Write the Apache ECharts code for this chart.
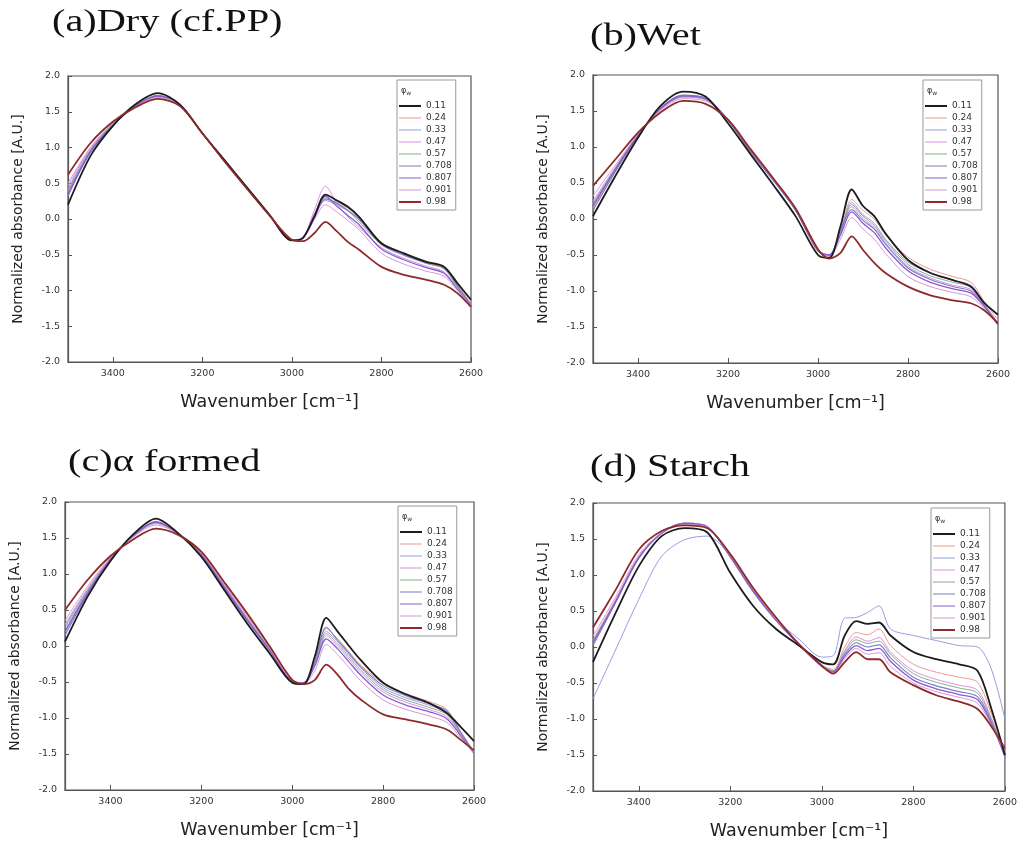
<!DOCTYPE html>
<html>
<head>
<meta charset="utf-8">
<script src="https://cdn.jsdelivr.net/npm/echarts@6/dist/echarts.min.js"></script>
<style>
  html, body { margin: 0; padding: 0; background: #fff; }
  #root { width: 1020px; height: 843px; }
</style>
</head>
<body>
<div id="root"></div>
<script>
// wavenumber grid (cm-1) shared by every curve
const wavenumbers = [3500, 3450, 3400, 3350, 3300, 3250, 3200, 3150, 3100, 3050, 3000, 2975, 2950, 2925, 2900, 2875, 2850, 2800, 2750, 2700, 2660, 2630, 2600];
const awLabels = ['0.11', '0.24', '0.33', '0.47', '0.57', '0.708', '0.807', '0.901', '0.98'];
const panelTitles = ['(a)Dry (cf.PP)', '(b)Wet', '(c)\u03b1 formed', '(d) Starch'];

// one row per water activity, same order as awLabels
const dryAbs = [
  [0.20, 0.88, 1.30, 1.60, 1.76, 1.60, 1.20, 0.82, 0.44, 0.06, -0.30, -0.26, 0.03, 0.34, 0.26, 0.17, 0.03, -0.34, -0.48, -0.60, -0.67, -0.90, -1.13],
  [0.38, 0.95, 1.32, 1.58, 1.72, 1.60, 1.20, 0.82, 0.43, 0.06, -0.30, -0.27, 0.01, 0.28, 0.23, 0.15, 0.02, -0.33, -0.47, -0.59, -0.66, -0.92, -1.18],
  [0.42, 0.97, 1.33, 1.58, 1.72, 1.60, 1.20, 0.81, 0.43, 0.05, -0.30, -0.27, 0.02, 0.26, 0.20, 0.11, -0.01, -0.36, -0.51, -0.62, -0.69, -0.95, -1.20],
  [0.46, 0.99, 1.34, 1.58, 1.71, 1.60, 1.20, 0.81, 0.43, 0.05, -0.30, -0.26, 0.12, 0.46, 0.22, 0.03, -0.12, -0.40, -0.55, -0.66, -0.74, -0.98, -1.20],
  [0.40, 0.96, 1.32, 1.57, 1.71, 1.60, 1.20, 0.81, 0.43, 0.05, -0.30, -0.27, 0.04, 0.30, 0.22, 0.12, -0.04, -0.36, -0.50, -0.62, -0.70, -0.96, -1.20],
  [0.32, 0.93, 1.31, 1.58, 1.73, 1.60, 1.20, 0.81, 0.43, 0.05, -0.30, -0.27, 0.03, 0.28, 0.22, 0.12, 0.00, -0.35, -0.50, -0.61, -0.68, -0.94, -1.20],
  [0.35, 0.94, 1.31, 1.57, 1.72, 1.60, 1.20, 0.81, 0.43, 0.05, -0.30, -0.27, 0.06, 0.32, 0.18, 0.05, -0.08, -0.42, -0.57, -0.68, -0.76, -0.99, -1.22],
  [0.50, 1.00, 1.34, 1.57, 1.70, 1.60, 1.20, 0.80, 0.42, 0.05, -0.30, -0.27, -0.01, 0.20, 0.10, -0.02, -0.15, -0.48, -0.63, -0.73, -0.80, -1.00, -1.22],
  [0.62, 1.06, 1.36, 1.56, 1.68, 1.58, 1.20, 0.80, 0.42, 0.05, -0.29, -0.31, -0.20, -0.04, -0.17, -0.32, -0.43, -0.67, -0.78, -0.85, -0.92, -1.04, -1.23]
];
const wetAbs = [
  [0.04, 0.60, 1.13, 1.57, 1.77, 1.70, 1.33, 0.90, 0.48, 0.04, -0.50, -0.54, -0.10, 0.41, 0.18, 0.04, -0.20, -0.57, -0.75, -0.85, -0.94, -1.17, -1.33],
  [0.15, 0.68, 1.15, 1.53, 1.70, 1.67, 1.38, 0.94, 0.55, 0.12, -0.44, -0.52, -0.17, 0.27, 0.12, 0.00, -0.22, -0.53, -0.70, -0.80, -0.88, -1.15, -1.40],
  [0.20, 0.70, 1.16, 1.53, 1.71, 1.67, 1.38, 0.94, 0.55, 0.13, -0.44, -0.50, -0.18, 0.23, 0.06, -0.06, -0.28, -0.60, -0.75, -0.85, -0.92, -1.18, -1.45],
  [0.25, 0.72, 1.17, 1.52, 1.69, 1.66, 1.38, 0.95, 0.56, 0.13, -0.43, -0.50, -0.20, 0.17, 0.01, -0.12, -0.33, -0.66, -0.82, -0.92, -0.98, -1.20, -1.45],
  [0.22, 0.71, 1.16, 1.53, 1.70, 1.66, 1.38, 0.94, 0.55, 0.13, -0.44, -0.50, -0.19, 0.20, 0.04, -0.09, -0.30, -0.63, -0.79, -0.88, -0.95, -1.19, -1.45],
  [0.12, 0.66, 1.15, 1.54, 1.72, 1.68, 1.37, 0.93, 0.54, 0.12, -0.45, -0.51, -0.16, 0.13, -0.02, -0.14, -0.35, -0.68, -0.84, -0.94, -1.00, -1.21, -1.47],
  [0.18, 0.69, 1.16, 1.53, 1.71, 1.67, 1.38, 0.94, 0.55, 0.13, -0.44, -0.50, -0.22, 0.10, -0.06, -0.19, -0.40, -0.72, -0.88, -0.97, -1.03, -1.22, -1.47],
  [0.32, 0.75, 1.18, 1.51, 1.67, 1.64, 1.38, 0.95, 0.56, 0.14, -0.43, -0.52, -0.28, 0.02, -0.14, -0.28, -0.48, -0.80, -0.94, -1.02, -1.08, -1.25, -1.46],
  [0.46, 0.83, 1.20, 1.48, 1.64, 1.60, 1.38, 0.97, 0.57, 0.15, -0.42, -0.55, -0.47, -0.24, -0.43, -0.61, -0.75, -0.94, -1.06, -1.13, -1.17, -1.27, -1.45]
];
const alphaAbs = [
  [0.06, 0.69, 1.18, 1.55, 1.77, 1.56, 1.24, 0.78, 0.32, -0.10, -0.51, -0.53, -0.14, 0.39, 0.20, 0.00, -0.19, -0.51, -0.67, -0.79, -0.93, -1.12, -1.32],
  [0.20, 0.75, 1.20, 1.53, 1.72, 1.56, 1.27, 0.82, 0.38, -0.05, -0.49, -0.51, -0.22, 0.24, 0.10, -0.08, -0.26, -0.52, -0.66, -0.77, -0.88, -1.18, -1.47],
  [0.25, 0.77, 1.21, 1.53, 1.72, 1.56, 1.27, 0.83, 0.38, -0.05, -0.49, -0.51, -0.23, 0.20, 0.06, -0.12, -0.30, -0.58, -0.72, -0.82, -0.93, -1.20, -1.48],
  [0.30, 0.80, 1.22, 1.52, 1.70, 1.55, 1.28, 0.84, 0.40, -0.04, -0.49, -0.51, -0.26, 0.14, 0.00, -0.18, -0.36, -0.64, -0.78, -0.88, -0.98, -1.22, -1.48],
  [0.28, 0.78, 1.21, 1.52, 1.71, 1.55, 1.28, 0.83, 0.39, -0.04, -0.49, -0.51, -0.25, 0.17, 0.03, -0.15, -0.33, -0.61, -0.75, -0.85, -0.95, -1.21, -1.48],
  [0.15, 0.72, 1.19, 1.54, 1.73, 1.56, 1.26, 0.81, 0.36, -0.06, -0.50, -0.52, -0.20, 0.26, 0.08, -0.10, -0.28, -0.55, -0.69, -0.80, -0.90, -1.19, -1.48],
  [0.20, 0.74, 1.20, 1.53, 1.72, 1.56, 1.27, 0.82, 0.37, -0.05, -0.49, -0.51, -0.27, 0.10, -0.04, -0.22, -0.40, -0.68, -0.82, -0.91, -1.01, -1.24, -1.49],
  [0.35, 0.83, 1.23, 1.51, 1.68, 1.55, 1.29, 0.86, 0.42, -0.03, -0.48, -0.52, -0.34, 0.02, -0.12, -0.30, -0.48, -0.75, -0.88, -0.97, -1.06, -1.27, -1.48],
  [0.50, 0.92, 1.25, 1.48, 1.63, 1.54, 1.31, 0.89, 0.46, 0.00, -0.47, -0.53, -0.47, -0.26, -0.40, -0.60, -0.74, -0.95, -1.02, -1.09, -1.16, -1.30, -1.45]
];
const starchAbs = [
  [-0.21, 0.48, 1.12, 1.54, 1.65, 1.59, 1.03, 0.57, 0.25, 0.02, -0.21, -0.24, 0.16, 0.36, 0.32, 0.34, 0.16, -0.07, -0.17, -0.24, -0.33, -0.85, -1.50],
  [0.10, 0.66, 1.25, 1.58, 1.70, 1.66, 1.24, 0.76, 0.36, 0.03, -0.25, -0.31, 0.00, 0.20, 0.17, 0.25, 0.02, -0.24, -0.35, -0.42, -0.49, -0.92, -1.44],
  [-0.72, -0.03, 0.66, 1.26, 1.49, 1.54, 1.26, 0.78, 0.38, 0.11, -0.14, -0.12, 0.40, 0.41, 0.48, 0.57, 0.25, 0.16, 0.09, 0.02, 0.00, -0.30, -1.00],
  [0.05, 0.64, 1.24, 1.58, 1.71, 1.66, 1.25, 0.78, 0.37, 0.03, -0.26, -0.33, -0.05, 0.14, 0.08, 0.13, -0.07, -0.33, -0.45, -0.53, -0.60, -0.98, -1.48],
  [0.08, 0.65, 1.25, 1.58, 1.71, 1.66, 1.25, 0.78, 0.37, 0.03, -0.26, -0.33, -0.07, 0.10, 0.05, 0.08, -0.10, -0.37, -0.49, -0.57, -0.64, -1.00, -1.48],
  [0.02, 0.62, 1.23, 1.58, 1.72, 1.67, 1.25, 0.77, 0.37, 0.03, -0.27, -0.34, -0.10, 0.06, 0.00, 0.03, -0.15, -0.42, -0.54, -0.62, -0.69, -1.03, -1.52],
  [0.06, 0.64, 1.24, 1.58, 1.72, 1.67, 1.26, 0.78, 0.38, 0.03, -0.27, -0.35, -0.13, 0.02, -0.05, -0.02, -0.20, -0.46, -0.58, -0.66, -0.73, -1.06, -1.52],
  [0.15, 0.70, 1.28, 1.59, 1.70, 1.66, 1.27, 0.80, 0.39, 0.04, -0.27, -0.36, -0.16, -0.02, -0.10, -0.08, -0.27, -0.50, -0.62, -0.70, -0.78, -1.08, -1.46],
  [0.27, 0.80, 1.35, 1.61, 1.69, 1.65, 1.29, 0.82, 0.41, 0.04, -0.26, -0.37, -0.21, -0.07, -0.17, -0.17, -0.35, -0.53, -0.67, -0.76, -0.86, -1.10, -1.41]
];

const lineColors = ['#1c1c1c', '#ee9a92', '#9a9ce4', '#de8ee4', '#86b086', '#7c7cc4', '#8a5ad6', '#d49ad4', '#8e2a2a'];
const lineWidths = [1.8, 1, 1, 1, 1, 1.1, 1.3, 1, 1.8];

(function () {
  const chart = echarts.init(document.getElementById('root'), null, { renderer: 'canvas' });
  const panels = [dryAbs, wetAbs, alphaAbs, starchAbs];
  const grids = [
    { left: 68, top: 76, width: 403, height: 286 },
    { left: 593, top: 75, width: 405, height: 288 },
    { left: 65, top: 502, width: 409, height: 288 },
    { left: 593, top: 503, width: 414, height: 288 }
  ];
  const legendPos = [[397, 80], [923, 80], [398, 506], [931, 508]];
  const titlePos = [[52, 23], [590, 37], [68, 463], [590, 468]];

  const axisColor = '#555';
  const sans = '"DejaVu Sans", sans-serif';

  // legend glyphs: a horizontal bar centred in a 22x10 box (thin / thick)
  const thinIcon = 'path://M0,4.4h22v1.2h-22zM0,0h0.01v0.01h-0.01zM0,9.99h0.01v0.01h-0.01z';
  const thickIcon = 'path://M0,4h22v2h-22zM0,0h0.01v0.01h-0.01zM0,9.99h0.01v0.01h-0.01z';

  const xAxes = grids.map((g, i) => ({
    gridIndex: i,
    type: 'value',
    inverse: true,
    min: 2600,
    max: 3500,
    interval: 200,
    splitLine: { show: false },
    axisLine: { onZero: false, lineStyle: { color: axisColor, width: 1.2 } },
    axisTick: { inside: true, length: 5, lineStyle: { color: axisColor } },
    axisLabel: {
      fontSize: 9.5, color: '#333', fontFamily: sans, margin: 7,
      formatter: v => (v === 3500 ? '' : String(v))
    },
    name: 'Wavenumber [cm\u207b\u00b9]',
    nameLocation: 'middle',
    nameGap: 31,
    nameTextStyle: { fontSize: 17.5, color: '#222', fontFamily: sans }
  }));

  const yAxes = grids.map((g, i) => ({
    gridIndex: i,
    type: 'value',
    min: -2,
    max: 2,
    interval: 0.5,
    splitLine: { show: false },
    axisLine: { onZero: false, lineStyle: { color: axisColor, width: 1.2 } },
    axisTick: { inside: true, length: 4, lineStyle: { color: axisColor } },
    axisLabel: {
      fontSize: 9.5, color: '#333', fontFamily: sans, margin: 8,
      formatter: v => v.toFixed(1)
    },
    name: 'Normalized absorbance [A.U.]',
    nameLocation: 'middle',
    nameGap: 43,
    nameTextStyle: { fontSize: 14, color: '#222', fontFamily: sans }
  }));

  const series = [];
  panels.forEach((rows, p) => {
    rows.forEach((vals, i) => {
      series.push({
        type: 'line',
        name: awLabels[i],
        xAxisIndex: p,
        yAxisIndex: p,
        data: wavenumbers.map((w, k) => [w, vals[k]]),
        symbol: 'none',
        showSymbol: false,
        smooth: 0.3,
        silent: true,
        z: (i === 0 || i === 8) ? 5 : 2,
        lineStyle: { color: lineColors[i], width: lineWidths[i] },
        itemStyle: { color: lineColors[i] }
      });
    });
  });

  const legendData = awLabels.map((name, i) => ({
    name: name,
    icon: lineWidths[i] > 1.5 ? thickIcon : thinIcon,
    itemStyle: { color: lineColors[i], borderWidth: 0 }
  }));

  const legends = legendPos.map(pos => ({
    left: pos[0],
    top: pos[1],
    orient: 'vertical',
    data: legendData,
    selectedMode: false,
    itemWidth: 22,
    itemHeight: 10,
    itemGap: 2,
    padding: [21, 4, 3, 2],
    borderColor: '#999',
    borderWidth: 1,
    textStyle: { fontSize: 9, color: '#333', fontFamily: sans, lineHeight: 10 }
  }));

  const graphics = [];
  titlePos.forEach((pos, i) => {
    graphics.push({
      type: 'text',
      x: pos[0],
      y: pos[1],
      scaleX: 1.3,
      style: {
        text: panelTitles[i],
        x: 0, y: 0,
        font: '31px "Liberation Serif", serif',
        fill: '#111',
        textVerticalAlign: 'middle'
      }
    });
  });
  legendPos.forEach(pos => {
    graphics.push({
      type: 'text',
      x: pos[0] + 4,
      y: pos[1] + 6,
      style: {
        text: '{p|\u03c6}{w|w}',
        rich: {
          p: { fontSize: 8, fill: '#333', fontFamily: sans },
          w: { fontSize: 6, fill: '#333', fontFamily: sans, padding: [4, 0, 0, 0] }
        }
      }
    });
  });

  const option = {
    backgroundColor: '#fff',
    animation: false,
    grid: grids.map(g => Object.assign({ show: true, borderColor: axisColor, borderWidth: 1.2, backgroundColor: 'transparent' }, g)),
    xAxis: xAxes,
    yAxis: yAxes,
    legend: legends,
    graphic: graphics,
    series: series
  };
  chart.setOption(option);
})();
</script>
</body>
</html>
